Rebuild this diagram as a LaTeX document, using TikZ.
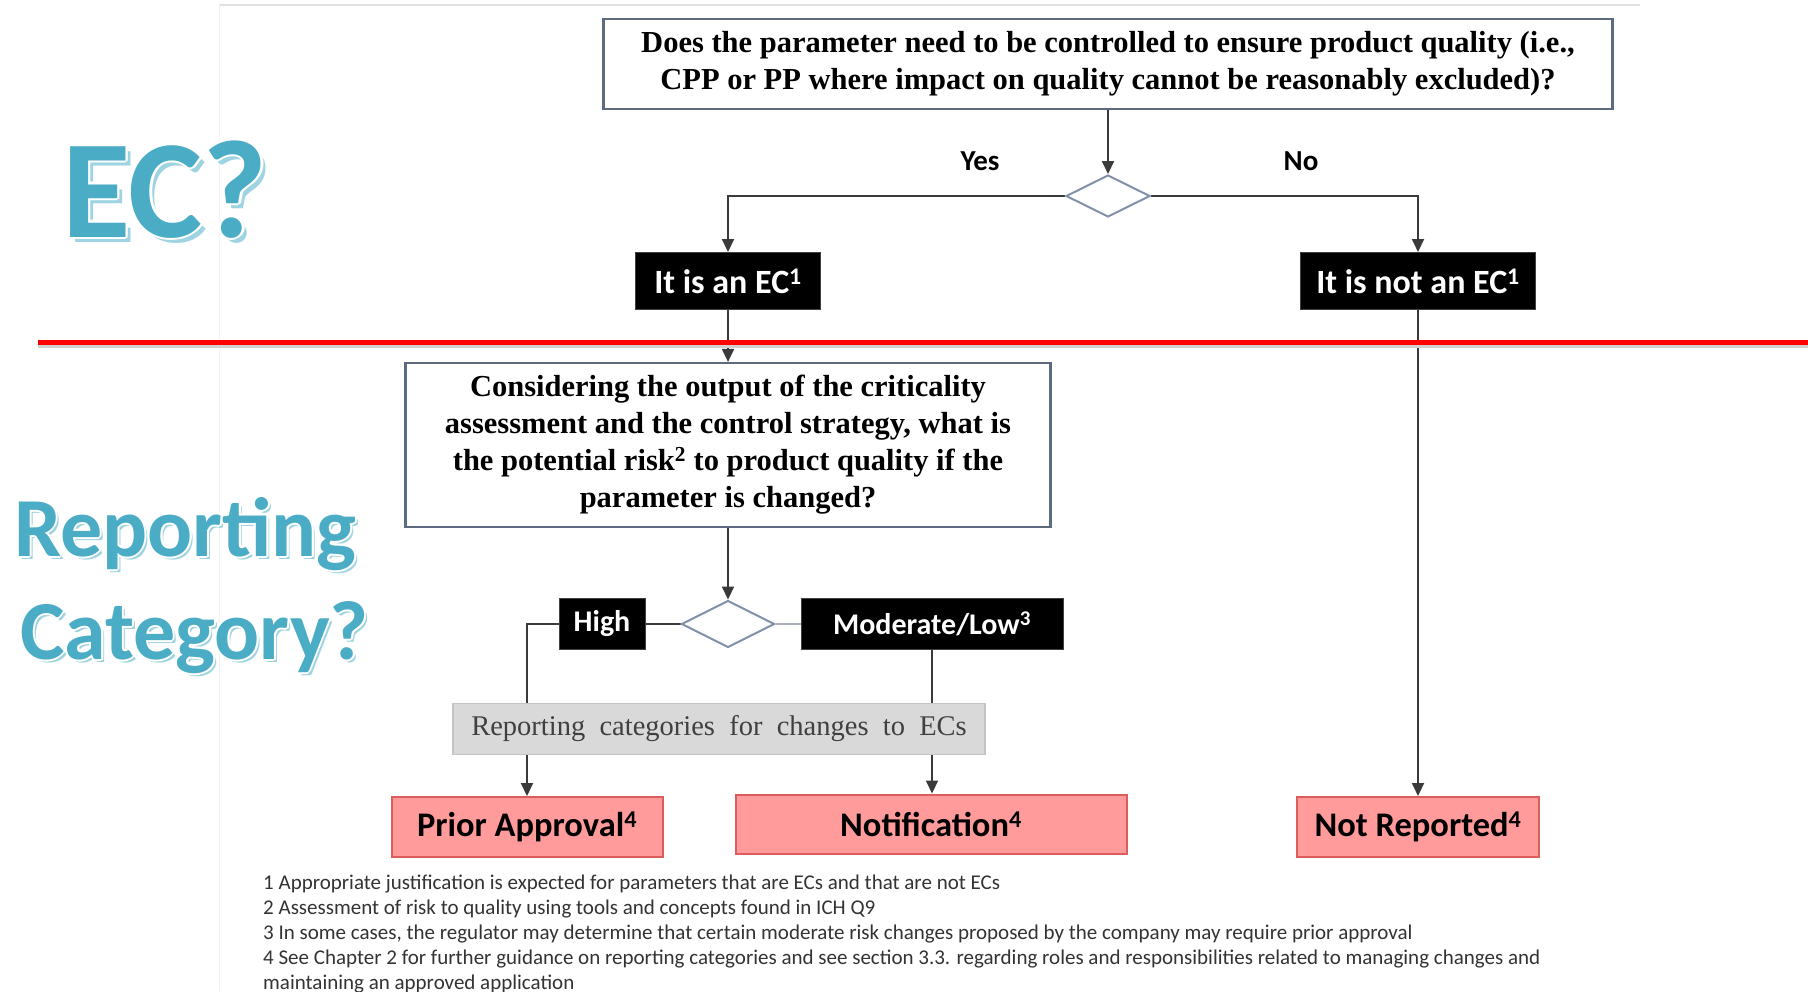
\documentclass[tikz,border=0pt]{standalone}
\usepackage{fontspec}
\setmainfont{Liberation Serif}
\newfontfamily\calib{Carlito}
\usetikzlibrary{shapes.geometric,arrows.meta}
\pgfdeclarelayer{back}
\pgfdeclarelayer{bg}
\pgfsetlayers{back,bg,main}
\definecolor{ecblue}{HTML}{4BACC6}
\definecolor{ecshadow}{HTML}{9ED3E1}
\definecolor{linegray}{HTML}{3A3A3A}
\definecolor{lightline}{HTML}{A9B0BC}
\definecolor{boxedge}{HTML}{5E6A80}
\definecolor{diaedge}{HTML}{8390AA}
\definecolor{redfill}{HTML}{FF9B9B}
\definecolor{rededge}{HTML}{DD5C5C}
\definecolor{grayfill}{HTML}{D9D9D9}
\definecolor{grayedge}{HTML}{C4C4C4}
\definecolor{graytext}{HTML}{404040}
\definecolor{notetext}{HTML}{333333}
\begin{document}
\begin{tikzpicture}[x=1pt,y=-1pt,
  conn/.style={draw=linegray, line width=2pt},
  arr/.style={conn, -{Triangle[length=13pt,width=12pt]}},
  qbox/.style={draw=boxedge, line width=2.2pt, fill=white, align=center,
    font=\bfseries\fontsize{30.5}{37}\selectfont, inner sep=0pt},
  dia/.style={diamond, draw=diaedge, line width=2pt, fill=white, inner sep=0pt},
  blk/.style={fill=black, draw=black!75, line width=1pt, text=white,
    font=\calib\bfseries\fontsize{30}{30}\selectfont, inner sep=0pt},
  blkL/.style={blk, font=\calib\bfseries\fontsize{34}{34}\selectfont},
  redbox/.style={fill=redfill, draw=rededge, line width=2pt,
    font=\calib\bfseries\fontsize{34.5}{34.5}\selectfont, inner sep=0pt},
  graybox/.style={fill=grayfill, draw=grayedge, line width=1.5pt, text=graytext,
    font=\fontsize{28.5}{28.5}\selectfont, inner sep=0pt},
  yn/.style={font=\calib\bfseries\fontsize{29}{29}\selectfont, inner sep=0pt},
  note/.style={anchor=base west, inner sep=0pt, text=notetext,
    font=\calib\fontsize{21}{21}\selectfont},
  bigA/.style={anchor=base west, inner sep=0pt, font=\calib\bfseries\fontsize{140}{140}\selectfont},
  bigB/.style={anchor=base west, inner sep=0pt, font=\calib\bfseries\fontsize{84}{84}\selectfont}
]
\begin{pgfonlayer}{back}
\fill[white] (0,0) rectangle (1808,991);
\draw[black!12, line width=1.5pt] (219,5) -- (1640,5);
\draw[black!5, line width=1pt] (219,5) -- (219,991);
\end{pgfonlayer}
\useasboundingbox (0,0) rectangle (1808,991);

% big titles: shadow, white outline, text
\node[bigA, text=ecshadow] (ecS) at (67,242) {EC?};
\foreach \dx/\dy [count=\i] in {2.5/0,-2.5/0,0/2.5,0/-2.5,1.8/1.8,-1.8/1.8,1.8/-1.8,-1.8/-1.8}
  \node[bigA, text=white] (ecW\i) at (62+\dx,237+\dy) {EC?};
\node[bigA, text=ecblue] (ecT) at (62,237) {EC?};

\node[bigB, text=ecshadow] (rpS) at (17,559) {Reporting};
\foreach \dx/\dy [count=\i] in {2/0,-2/0,0/2,0/-2,1.4/1.4,-1.4/1.4,1.4/-1.4,-1.4/-1.4}
  \node[bigB, text=white] (rpW\i) at (14+\dx,556+\dy) {Reporting};
\node[bigB, text=ecblue] (rpT) at (14,556) {Reporting};

\node[bigB, text=ecshadow] (ctS) at (23,662) {Category?};
\foreach \dx/\dy [count=\i] in {2/0,-2/0,0/2,0/-2,1.4/1.4,-1.4/1.4,1.4/-1.4,-1.4/-1.4}
  \node[bigB, text=white] (ctW\i) at (20+\dx,659+\dy) {Category?};
\node[bigB, text=ecblue] (ctT) at (20,659) {Category?};

% flowchart nodes
\node[qbox, minimum width=1009pt, minimum height=90pt] (q1) at (1108,64)
  {Does the parameter need to be controlled to ensure product quality (i.e.,\\
   CPP or PP where impact on quality cannot be reasonably excluded)?};
\node[dia, minimum width=84pt, minimum height=42pt] (d1) at (1108,196) {};
\node[yn] (yes) at (980,161) {Yes};
\node[yn] (no) at (1301,161) {No};
\node[blkL, minimum width=185pt, minimum height=57pt] (ec) at (728,281) {It is an EC\textsuperscript{1}};
\node[blkL, minimum width=235pt, minimum height=57pt] (nec) at (1418,281) {It is not an EC\textsuperscript{1}};
\node[qbox, minimum width=645pt, minimum height=164pt] (q2) at (728,445)
  {Considering the output of the criticality\\
   assessment and the control strategy, what is\\
   the potential risk\textsuperscript{2} to product quality if the\\
   parameter is changed?};
\node[dia, minimum width=93pt, minimum height=47pt] (d2) at (728,624) {};
\node[blk, minimum width=86pt, minimum height=51pt] (high) at (602,624) {High};
\node[blk, minimum width=262pt, minimum height=51pt] (mod) at (932,624) {Moderate/Low\textsuperscript{3}};
\node[graybox, minimum width=532pt, minimum height=51pt] (rep) at (719,729)
  {Reporting\ \ categories\ \ for\ \ changes\ \ to\ \ ECs};
\node[redbox, minimum width=271pt, minimum height=60pt] (pa) at (527,827) {Prior Approval\textsuperscript{4}};
\node[redbox, minimum width=391pt, minimum height=59pt] (nt) at (931,824) {Notification\textsuperscript{4}};
\node[redbox, minimum width=242pt, minimum height=60pt] (nr) at (1418,827) {Not Reported\textsuperscript{4}};

% connectors
\begin{pgfonlayer}{bg}
\draw[arr] (q1.south) -- (d1.north);
\draw[arr] (d1.west) -| (ec.north);
\draw[arr] (d1.east) -| (nec.north);
\draw[arr] (ec.south) -- (q2.north);
\draw[arr] (nec.south) -- (nr.north);
\draw[arr] (q2.south) -- (d2.north);
\draw[conn] (high.east) -- (d2.west);
\draw[draw=lightline, line width=2pt] (d2.east) -- (mod.west);
\draw[arr] (high.west) -| (pa.north);
\draw[arr] (mod.south) -- (mod.south |- nt.north);
\end{pgfonlayer}

% red separator with faint shadow
\coordinate (rl) at (38,342);
\coordinate (rr) at (1808,342);
\draw[black!18, line width=3pt] ([yshift=-4pt]rl) -- ([yshift=-4pt]rr);
\draw[red, line width=5pt] (rl) -- (rr);

% footnotes
\node[note] (n1) at (263,889) {1 Appropriate justification is expected for parameters that are ECs and that are not ECs};
\node[note] (n2) at (263,914) {2 Assessment of risk to quality using tools and concepts found in ICH Q9};
\node[note] (n3) at (263,939) {3 In some cases, the regulator may determine that certain moderate risk changes proposed by the company may require prior approval};
\node[note] (n4) at (263,964) {4 See Chapter 2 for further guidance on reporting categories and see section 3.3. regarding roles and responsibilities related to managing changes and};
\node[note] (n5) at (263,989) {maintaining an approved application};
\end{tikzpicture}
\end{document}
